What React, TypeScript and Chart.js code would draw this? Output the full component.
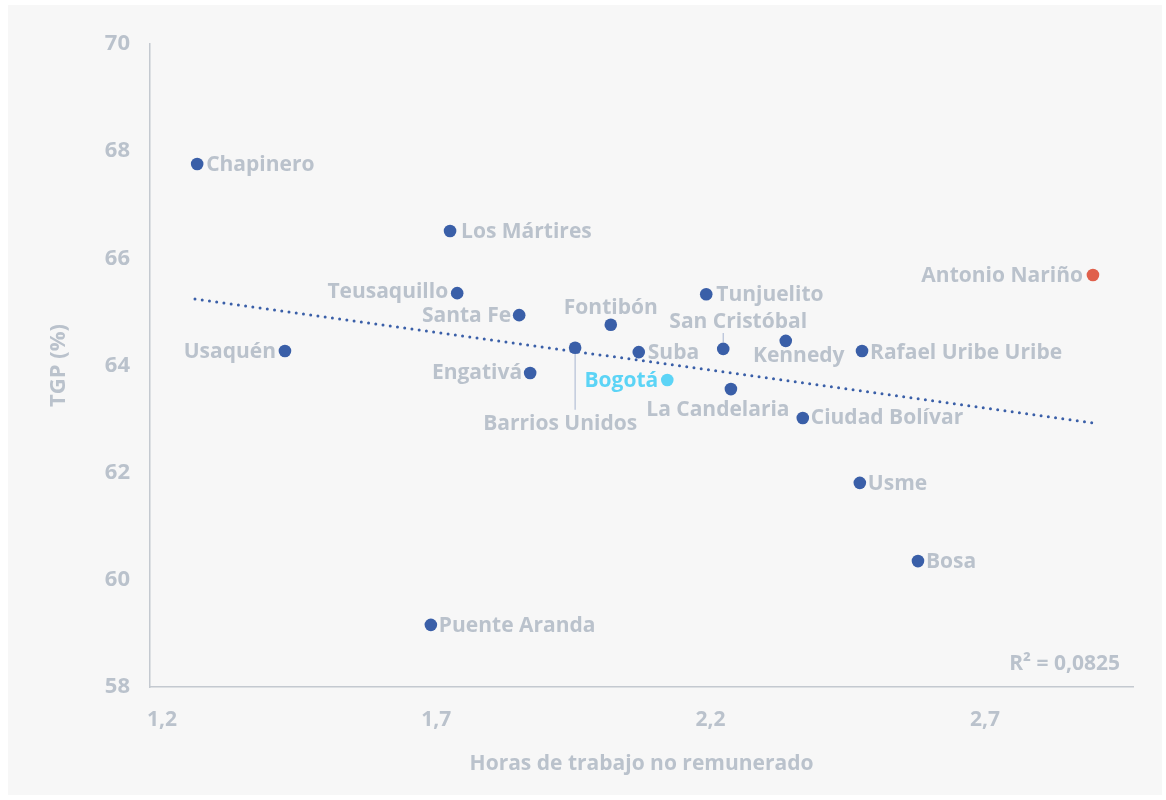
import React, { useEffect, useRef } from 'react';
import { Chart, registerables } from 'chart.js';

Chart.register(...registerables);

// ---- Data ----
const districts = [
  'Chapinero', 'Los Mártires', 'Teusaquillo', 'Santa Fe', 'Usaquén', 'Engativá',
  'Barrios Unidos', 'Fontibón', 'Suba', 'Bogotá', 'Tunjuelito', 'San Cristóbal',
  'La Candelaria', 'Kennedy', 'Ciudad Bolívar', 'Rafael Uribe Uribe', 'Usme',
  'Bosa', 'Puente Aranda', 'Antonio Nariño',
];
const hours = [
  1.264, 1.725, 1.738, 1.851, 1.424, 1.871,
  1.953, 2.018, 2.069, 2.121, 2.192, 2.223,
  2.237, 2.337, 2.368, 2.476, 2.472,
  2.578, 1.690, 2.897,
];
const tgp = [
  67.76, 66.51, 65.35, 64.94, 64.27, 63.86,
  64.33, 64.76, 64.25, 63.73, 65.33, 64.31,
  63.56, 64.46, 63.02, 64.27, 61.81,
  60.35, 59.16, 65.69,
];
const trendHours = [1.26, 2.897];
const trendTgp = [65.24, 62.93];
const xTicks = [1.2, 1.7, 2.2, 2.7];
const yTicks = [58, 60, 62, 64, 66, 68, 70];
const rSquaredText = 'R² = 0,0825';
const xTitle = 'Horas de trabajo no remunerado';
const yTitle = 'TGP (%)';

// ---- Label placement (style) : [dx, dy, align] relative to the point ----
const labelLayout: Record<string, [number, number, CanvasTextAlign]> = {
  'Chapinero': [9, 1, 'left'],
  'Los Mártires': [11, 1, 'left'],
  'Teusaquillo': [-9, -1, 'right'],
  'Santa Fe': [-8, 1, 'right'],
  'Usaquén': [-9, 1, 'right'],
  'Engativá': [-8, 0, 'right'],
  'Barrios Unidos': [-15, 76, 'center'],
  'Fontibón': [0, -17, 'center'],
  'Suba': [9, 1, 'left'],
  'Bogotá': [-9, 1, 'right'],
  'Tunjuelito': [10, 1, 'left'],
  'San Cristóbal': [15, -27, 'center'],
  'La Candelaria': [-13, 21, 'center'],
  'Kennedy': [13, 15, 'center'],
  'Ciudad Bolívar': [8, 0, 'left'],
  'Rafael Uribe Uribe': [8, 2, 'left'],
  'Usme': [8, 1, 'left'],
  'Bosa': [8, 1, 'left'],
  'Puente Aranda': [8, 1, 'left'],
  'Antonio Nariño': [-10, 1, 'right'],
};
// leader lines: [dy start, dy end] relative to point, vertical
const leaders: Record<string, [number, number]> = {
  'Barrios Unidos': [6, 62],
  'San Cristóbal': [-16, -7],
};

const BLUE = '#3a5fa8';
const CYAN = '#5cd4f6';
const RED = '#e0604b';
const TEXT = '#bac2cc';
const AXIS = '#c4c9d0';
const FONT = '"Open Sans", Lato, sans-serif';

function pointColor(name: string) {
  if (name === 'Bogotá') return CYAN;
  if (name === 'Antonio Nariño') return RED;
  return BLUE;
}

export default function App() {
  const ref = useRef<HTMLCanvasElement | null>(null);

  useEffect(() => {
    if (!ref.current) return;

    const bgPlugin = {
      id: 'bg',
      beforeDraw(chart: any) {
        const ctx = chart.ctx;
        ctx.save();
        ctx.fillStyle = '#ffffff';
        ctx.fillRect(0, 0, chart.width, chart.height);
        ctx.fillStyle = '#f7f7f7';
        ctx.fillRect(8, 5, 1154, 790);
        ctx.restore();
      },
    };

    const labelPlugin = {
      id: 'labels',
      beforeDatasetsDraw(chart: any) {
        const meta = chart.getDatasetMeta(1);
        const ctx = chart.ctx;
        ctx.save();
        ctx.strokeStyle = '#b3bfd6';
        ctx.lineWidth = 1.2;
        meta.data.forEach((el: any, i: number) => {
          const l = leaders[districts[i]];
          if (!l) return;
          ctx.beginPath();
          ctx.moveTo(el.x, el.y + l[0]);
          ctx.lineTo(el.x, el.y + l[1]);
          ctx.stroke();
        });
        ctx.restore();
      },
      afterDatasetsDraw(chart: any) {
        const meta = chart.getDatasetMeta(1);
        const ctx = chart.ctx;
        ctx.save();
        ctx.font = `bold 21px ${FONT}`;
        ctx.textBaseline = 'middle';
        meta.data.forEach((el: any, i: number) => {
          const name = districts[i];
          const [dx, dy, align] = labelLayout[name] || [9, 0, 'left'];
          ctx.textAlign = align;
          ctx.fillStyle = name === 'Bogotá' ? CYAN : TEXT;
          ctx.fillText(name, el.x + dx, el.y + dy);
        });
        // R squared
        const area = chart.chartArea;
        ctx.textAlign = 'right';
        ctx.fillStyle = TEXT;
        ctx.fillText(rSquaredText, area.right - 13, area.bottom - 23);
        ctx.restore();
      },
    };

    const chart = new Chart(ref.current, {
      type: 'scatter',
      data: {
        datasets: [
          {
            label: 'Tendencia',
            data: trendHours.map((x, i) => ({ x, y: trendTgp[i] })),
            showLine: true,
            borderColor: BLUE,
            borderWidth: 3,
            borderDash: [0, 7.3],
            borderCapStyle: 'round',
            pointRadius: 0,
            order: 2,
          } as any,
          {
            label: 'Localidades',
            data: hours.map((x, i) => ({ x, y: tgp[i] })),
            pointRadius: 6.3,
            pointHoverRadius: 6.3,
            pointBorderWidth: 0,
            pointBackgroundColor: districts.map(pointColor),
            pointBorderColor: districts.map(pointColor),
            order: 1,
          },
        ],
      },
      options: {
        responsive: false,
        animation: false,
        devicePixelRatio: 1,
        layout: { padding: { top: 44, right: 33, left: 0, bottom: 0 } },
        plugins: {
          legend: { display: false },
          tooltip: { enabled: false },
        },
        scales: {
          x: {
            type: 'linear',
            min: 1.178,
            max: 2.97,
            afterBuildTicks: (s: any) => {
              s.ticks = xTicks.map((v) => ({ value: v }));
            },
            afterFit: (s: any) => {
              s.height = 113;
            },
            grid: { display: false, drawTicks: false },
            border: { display: true, color: AXIS, width: 1.5 },
            ticks: {
              color: TEXT,
              padding: 20,
              font: { family: FONT, size: 21, weight: 'bold' },
              callback: (v: any) => String(Number(v).toFixed(1)).replace('.', ','),
            },
            title: {
              display: true,
              text: xTitle,
              color: TEXT,
              font: { family: FONT, size: 21, weight: 'bold' },
              padding: { top: 0, bottom: 23 },
            },
          },
          y: {
            type: 'linear',
            min: 58,
            max: 70,
            afterBuildTicks: (s: any) => {
              s.ticks = yTicks.map((v) => ({ value: v }));
            },
            afterFit: (s: any) => {
              s.width = 150;
            },
            grid: { display: false, drawTicks: false },
            border: { display: true, color: AXIS, width: 1.5 },
            ticks: {
              color: TEXT,
              padding: 20,
              font: { family: FONT, size: 22, weight: 'bold' },
            },
            title: {
              display: true,
              text: yTitle,
              color: TEXT,
              font: { family: FONT, size: 22, weight: 'bold' },
              padding: { top: 46, bottom: 0 },
            },
          },
        },
      },
      plugins: [bgPlugin, labelPlugin],
    });

    return () => chart.destroy();
  }, []);

  return (
    <div style={{ position: 'absolute', left: 0, top: 0, width: 1166, height: 800 }}>
      <canvas ref={ref} width={1166} height={800} style={{ display: 'block' }} />
    </div>
  );
}
